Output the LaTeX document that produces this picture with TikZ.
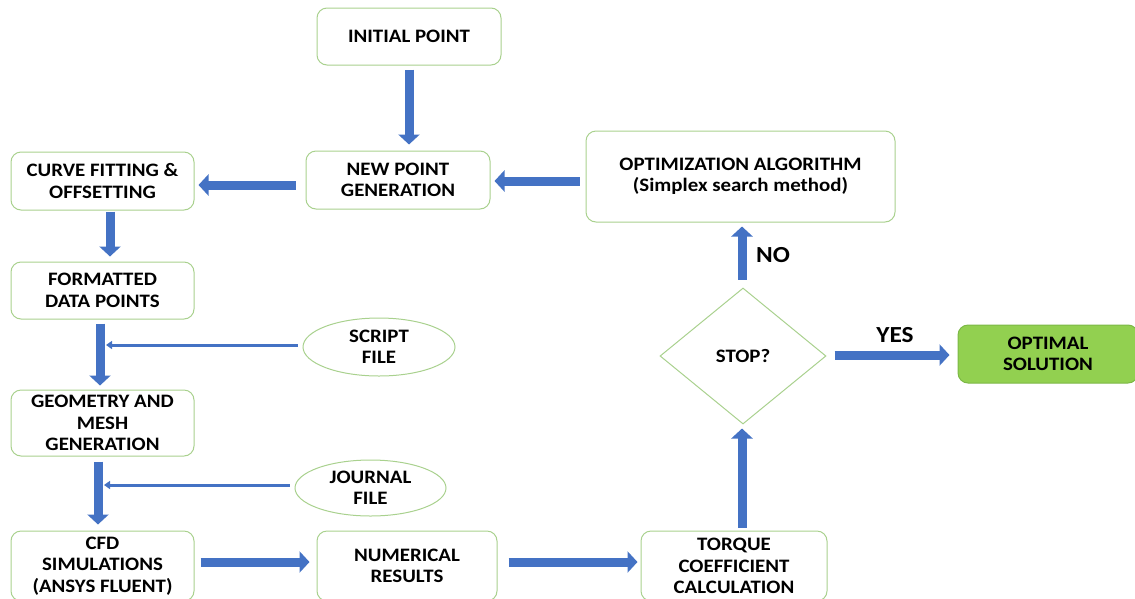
\documentclass[tikz,border=0pt]{standalone}
\usepackage{fontspec}
\setmainfont{Carlito}[FakeStretch=1.1]
\usetikzlibrary{arrows.meta,shapes.geometric}
\definecolor{bx}{HTML}{A9D18E}
\definecolor{ab}{HTML}{4472C4}
\definecolor{og}{HTML}{92D050}
\definecolor{ogd}{HTML}{7CB846}
\begin{document}
\begin{tikzpicture}[x=1pt,y=-1pt,
  txt/.style={font=\bfseries\fontsize{19}{21.5}\selectfont, align=center, text=black},
  box/.style={txt, draw=bx, line width=1pt, rounded corners=10pt, fill=white, inner sep=0pt},
  oval/.style={txt, draw=bx, line width=1pt, ellipse, fill=white, inner sep=0pt},
  blk/.style={draw=ab, line width=9pt, -{Triangle[width=21pt,length=10pt]}},
  thin/.style={draw=ab, line width=3pt, -{Triangle[width=8pt,length=6pt]}},
  lbl/.style={font=\bfseries\fontsize{23}{26}\selectfont, text=black}]
\useasboundingbox (0,0) rectangle (1135,598);
\node[box, minimum width=184pt, minimum height=57pt] (init) at (409,36.5) {INITIAL POINT};
\node[box, minimum width=184pt, minimum height=58pt] (newp) at (398,180) {NEW POINT\\GENERATION};
\node[box, minimum width=183pt, minimum height=58pt] (curve) at (102.5,181) {CURVE FITTING \&\\OFFSETTING};
\node[box, minimum width=309pt, minimum height=91pt] (optim) at (740.5,176.5) {OPTIMIZATION ALGORITHM\\(Simplex search method)};
\node[box, minimum width=183pt, minimum height=57pt] (fmt) at (102.5,290.5) {FORMATTED\\DATA POINTS};
\node[oval, minimum width=152pt, minimum height=58pt] (script) at (379,347) {SCRIPT\\FILE};
\node[box, minimum width=183pt, minimum height=66pt] (geom) at (102.5,423) {GEOMETRY AND\\MESH\\GENERATION};
\node[oval, minimum width=151pt, minimum height=56pt] (journal) at (370.5,488) {JOURNAL\\FILE};
\node[box, minimum width=183pt, minimum height=70pt] (cfd) at (102.5,566) {CFD\\SIMULATIONS\\(ANSYS FLUENT)};
\node[box, minimum width=180pt, minimum height=70pt] (numr) at (407,566) {NUMERICAL\\RESULTS};
\node[box, minimum width=186pt, minimum height=70pt] (torque) at (734,566) {TORQUE\\COEFFICIENT\\CALCULATION};
\node[txt, diamond, draw=bx, line width=1pt, inner sep=0pt, minimum width=166pt, minimum height=136pt] (stop) at (743,356) {STOP?};
\node[box, fill=og, draw=ogd, minimum width=180pt, minimum height=58pt] (opt) at (1048,354) {OPTIMAL\\SOLUTION};
\node[lbl] (no) at (773,255) {NO};
\node[lbl] (yes) at (895,335) {YES};
\coordinate (sa) at (106,345);
\coordinate (ja) at (104,485);
\draw[blk] ([yshift=-4pt]init.south) -- ([yshift=6pt]init.south |- newp.north);
\draw[blk] ([xshift=-10pt,yshift=-5pt]newp.west) -- ([xshift=4pt,yshift=-4pt]curve.east);
\draw[blk] ([xshift=-6pt,yshift=-4.5pt]optim.west) -- ([xshift=4pt,yshift=-1pt]newp.east);
\draw[blk] ([xshift=7.5pt,yshift=-1pt]curve.south) -- ([xshift=7.5pt,yshift=5pt]fmt.north);
\draw[blk] ([xshift=-2.5pt,yshift=-4pt]fmt.south) -- ([xshift=-2.5pt,yshift=4pt]geom.north);
\draw[thin] ([xshift=-5pt,yshift=2pt]script.west) -- (sa);
\draw[blk] ([xshift=-4.5pt,yshift=-5pt]geom.south) -- ([xshift=-4.5pt,yshift=6pt]cfd.north);
\draw[thin] ([xshift=-5pt,yshift=3pt]journal.west) -- (ja);
\draw[blk] ([xshift=6pt,yshift=4pt]cfd.east) -- ([xshift=-7pt,yshift=4pt]numr.west);
\draw[blk] ([xshift=11pt,yshift=4pt]numr.east) -- ([xshift=-3pt,yshift=4pt]torque.west);
\draw[blk] ([xshift=8pt,yshift=3pt]torque.north) -- ([xshift=-1pt,yshift=-4pt]stop.south);
\draw[blk] ([xshift=-1pt,yshift=8pt]stop.north) -- ([xshift=1.5pt,yshift=-4pt]optim.south);
\draw[blk] ([xshift=8pt,yshift=1pt]stop.east) -- ([xshift=-8pt,yshift=-1pt]opt.west);
\end{tikzpicture}
\end{document}
